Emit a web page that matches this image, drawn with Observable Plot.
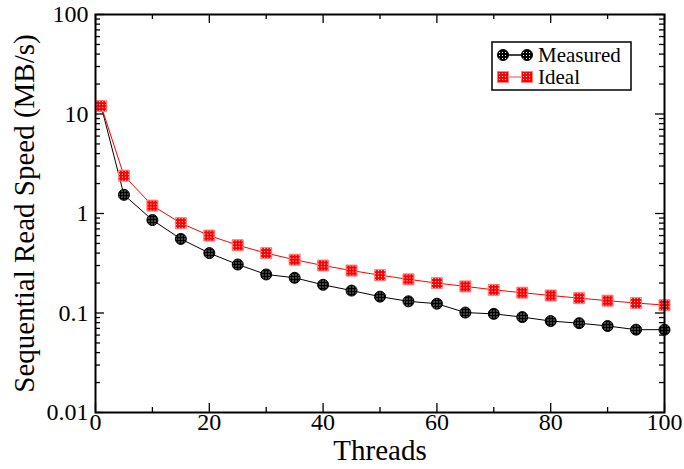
<!DOCTYPE html>
<html>
<head>
<meta charset="utf-8">
<script src="https://cdn.jsdelivr.net/npm/d3@7"></script>
<script src="https://cdn.jsdelivr.net/npm/@observablehq/plot@0.6"></script>
<style>
  html, body { margin: 0; padding: 0; background: #fff; }
  svg { display: block; }
</style>
</head>
<body>
<div id="chart"></div>
<script>
const threads = [1, 5, 10, 15, 20, 25, 30, 35, 40, 45, 50, 55, 60, 65, 70, 75, 80, 85, 90, 95, 100];
const measured = [12, 1.54, 0.86, 0.555, 0.4, 0.307, 0.244, 0.226, 0.192, 0.168, 0.146, 0.131, 0.124, 0.101, 0.098, 0.091, 0.083, 0.079, 0.074, 0.068, 0.068];
const ideal = [12, 2.4, 1.2, 0.8, 0.6, 0.48, 0.4, 0.343, 0.3, 0.267, 0.24, 0.218, 0.2, 0.185, 0.171, 0.16, 0.15, 0.141, 0.133, 0.126, 0.12];
const seriesNames = ["Measured", "Ideal"];
const xMajorTicks = [0, 20, 40, 60, 80, 100];
const xMinorTicks = [10, 30, 50, 70, 90];
const yMajorTicks = [0.01, 0.1, 1, 10, 100];
const yMinorTicks = [0.02,0.03,0.04,0.05,0.06,0.07,0.08,0.09,0.2,0.3,0.4,0.5,0.6,0.7,0.8,0.9,2,3,4,5,6,7,8,9,20,30,40,50,60,70,80,90];
const xTitle = "Threads";
const yTitle = "Sequential Read Speed (MB/s)";

const W = 684, H = 469, mL = 95, mR = 20, mT = 14, mB = 57;
const pw = W - mL - mR, ph = H - mT - mB;

const measuredData = threads.map((t, i) => ({t, v: measured[i]}));
const idealData = threads.map((t, i) => ({t, v: ideal[i]}));

const font = "'Liberation Serif', 'Times New Roman', serif";

const plot = Plot.plot({
  width: W, height: H,
  marginLeft: mL, marginRight: mR, marginTop: mT, marginBottom: mB,
  style: {fontFamily: font, color: "black", background: "white"},
  x: {domain: [0, 100]},
  y: {type: "log", domain: [0.01, 100]},
  marks: [
    Plot.ruleY(yMajorTicks, {stroke: "black", strokeWidth: 1.3, insetRight: pw - 9}),
    Plot.ruleY(yMinorTicks, {stroke: "black", strokeWidth: 1.3, insetRight: pw - 5}),
    Plot.ruleY(yMajorTicks, {stroke: "black", strokeWidth: 1.3, insetLeft: pw - 9}),
    Plot.ruleY(yMinorTicks, {stroke: "black", strokeWidth: 1.3, insetLeft: pw - 5}),
    Plot.ruleX(xMajorTicks, {stroke: "black", strokeWidth: 1.3, insetTop: ph - 9}),
    Plot.ruleX(xMinorTicks, {stroke: "black", strokeWidth: 1.3, insetTop: ph - 5}),
    Plot.ruleX(xMajorTicks, {stroke: "black", strokeWidth: 1.3, insetBottom: ph - 9}),
    Plot.ruleX(xMinorTicks, {stroke: "black", strokeWidth: 1.3, insetBottom: ph - 5}),
    Plot.axisX({ticks: xMajorTicks, tickSize: 0, tickPadding: 0, fontSize: 24, label: null, tickFormat: d => String(d)}),
    Plot.axisY({ticks: yMajorTicks, tickSize: 0, tickPadding: 7, fontSize: 24, label: null, tickFormat: d => String(d)}),
    Plot.text([xTitle], {frameAnchor: "bottom", dy: 47, fontSize: 29, text: d => d}),
    Plot.text([yTitle], {frameAnchor: "left", textAnchor: "middle", dx: -71, rotate: -90, fontSize: 29, text: d => d}),
    Plot.line(measuredData, {x: "t", y: "v", stroke: "black", strokeWidth: 1}),
    Plot.dot(measuredData, {x: "t", y: "v", r: 5.5, fill: "url(#patBlack)", stroke: "black", strokeWidth: 1}),
    Plot.line(idealData, {x: "t", y: "v", stroke: "red", strokeWidth: 1}),
    Plot.dot(idealData, {x: "t", y: "v", symbol: "square", r: 6.2, fill: "url(#patRed)", stroke: "#ff8080", strokeWidth: 1}),
    Plot.frame({stroke: "black", strokeWidth: 2})
  ]
});

const svg = d3.select(plot);
const defs = svg.insert("defs", ":first-child");
function pattern(id, bg) {
  const p = defs.append("pattern").attr("id", id).attr("width", 3).attr("height", 3).attr("patternUnits", "userSpaceOnUse");
  p.append("rect").attr("width", 3).attr("height", 3).attr("fill", bg);
  p.append("rect").attr("x", 1).attr("y", 1).attr("width", 1).attr("height", 1).attr("fill", "white");
}
pattern("patBlack", "black");
pattern("patRed", "red");

const lg = svg.append("g").attr("font-family", font).attr("text-anchor", "start");
lg.append("rect").attr("x", 492).attr("y", 42).attr("width", 139).attr("height", 48)
  .attr("fill", "white").attr("stroke", "black").attr("stroke-width", 1.5);
const rows = [
  {name: seriesNames[0], y: 55, color: "black", sym: "circle"},
  {name: seriesNames[1], y: 77, color: "red", sym: "square"}
];
rows.forEach(r => {
  lg.append("line").attr("x1", 503).attr("x2", 527).attr("y1", r.y).attr("y2", r.y)
    .attr("stroke", r.color === "red" ? "#ff8080" : "black").attr("stroke-width", 1.5);
  [503, 527].forEach(cx => {
    if (r.sym === "circle") {
      lg.append("circle").attr("cx", cx).attr("cy", r.y).attr("r", 5.5)
        .attr("fill", "url(#patBlack)").attr("stroke", "black");
    } else {
      lg.append("rect").attr("x", cx - 5.5).attr("y", r.y - 5.5).attr("width", 11).attr("height", 11)
        .attr("fill", "url(#patRed)").attr("stroke", "#ff8080");
    }
  });
  lg.append("text").attr("x", 538).attr("y", r.y + 7).attr("font-size", 21).attr("fill", "black")
    .attr("text-anchor", "start").text(r.name);
});

document.getElementById("chart").appendChild(plot);
</script>
</body>
</html>
